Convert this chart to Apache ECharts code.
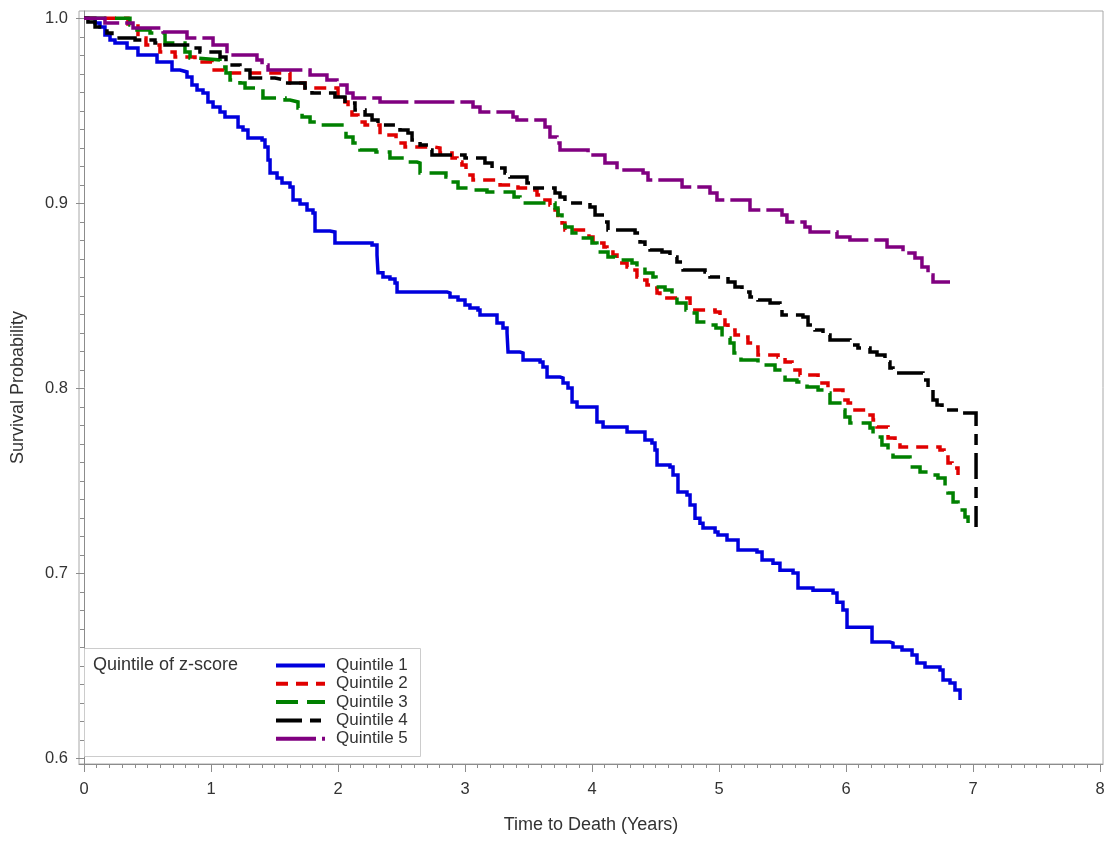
<!DOCTYPE html>
<html><head><meta charset="utf-8">
<script src="https://cdn.jsdelivr.net/npm/echarts@6/dist/echarts.min.js"></script>
<style>html,body{margin:0;padding:0;background:#fff}#c{width:1109px;height:847px}</style>
</head><body><div id="c"></div>
<script>
// ---- data ----
const seriesNames = ['Quintile 1', 'Quintile 2', 'Quintile 3', 'Quintile 4', 'Quintile 5'];
const legendTitle = 'Quintile of z-score';
const xTickLabels = [0, 1, 2, 3, 4, 5, 6, 7, 8];
const yTickLabels = [0.6, 0.7, 0.8, 0.9, 1.0];

const q1Time = [0, 0.087, 0.126, 0.165, 0.205, 0.244, 0.339, 0.425, 0.575, 0.693, 0.756, 0.811, 0.850, 0.890, 0.937, 0.976, 1.016, 1.071, 1.110, 1.213, 1.252, 1.291, 1.402, 1.425, 1.449, 1.465, 1.520, 1.559, 1.622, 1.646, 1.701, 1.756, 1.803, 1.819, 1.937, 1.976, 2.268, 2.307, 2.315, 2.354, 2.409, 2.449, 2.465, 2.858, 2.882, 2.945, 3.000, 3.039, 3.102, 3.118, 3.252, 3.299, 3.331, 3.339, 3.433, 3.457, 3.591, 3.614, 3.646, 3.748, 3.772, 3.811, 3.843, 3.882, 4.039, 4.087, 4.276, 4.417, 4.472, 4.496, 4.512, 4.614, 4.638, 4.677, 4.748, 4.772, 4.811, 4.850, 4.874, 4.969, 4.992, 5.063, 5.150, 5.299, 5.339, 5.425, 5.480, 5.583, 5.622, 5.740, 5.898, 5.929, 5.976, 6.008, 6.205, 6.346, 6.370, 6.441, 6.520, 6.559, 6.622, 6.740, 6.764, 6.819, 6.858, 6.898];
const q1Surv = [1, 0.9975, 0.9953, 0.9910, 0.9883, 0.9866, 0.9839, 0.9801, 0.9764, 0.9720, 0.9710, 0.9683, 0.9639, 0.9612, 0.9596, 0.9548, 0.9520, 0.9493, 0.9466, 0.9412, 0.9396, 0.9353, 0.9342, 0.9304, 0.9234, 0.9164, 0.9137, 0.9110, 0.9088, 0.9018, 0.8996, 0.8964, 0.8948, 0.8850, 0.8845, 0.8786, 0.8775, 0.8721, 0.8624, 0.8602, 0.8591, 0.8569, 0.8521, 0.8515, 0.8494, 0.8477, 0.8450, 0.8434, 0.8423, 0.8396, 0.8353, 0.8326, 0.8299, 0.8196, 0.8191, 0.8153, 0.8142, 0.8115, 0.8061, 0.8056, 0.8029, 0.8002, 0.7926, 0.7899, 0.7818, 0.7791, 0.7764, 0.7720, 0.7704, 0.7666, 0.7585, 0.7574, 0.7531, 0.7439, 0.7423, 0.7369, 0.7298, 0.7271, 0.7245, 0.7223, 0.7207, 0.7180, 0.7126, 0.7115, 0.7072, 0.7055, 0.7017, 0.7001, 0.6920, 0.6909, 0.6893, 0.6844, 0.6801, 0.6709, 0.6628, 0.6623, 0.6601, 0.6585, 0.6558, 0.6515, 0.6493, 0.6477, 0.6423, 0.6407, 0.6369, 0.6315];

const q2Time = [0, 0.346, 0.425, 0.488, 0.598, 0.717, 0.874, 1.008, 1.102, 1.622, 1.740, 2.000, 2.055, 2.079, 2.110, 2.157, 2.213, 2.331, 2.457, 2.528, 2.764, 2.803, 2.898, 2.937, 2.976, 3.008, 3.039, 3.063, 3.276, 3.417, 3.512, 3.567, 3.606, 3.669, 3.709, 3.732, 3.764, 3.787, 3.976, 4.008, 4.094, 4.118, 4.165, 4.197, 4.276, 4.323, 4.354, 4.402, 4.433, 4.472, 4.512, 4.535, 4.772, 4.969, 5.008, 5.047, 5.071, 5.126, 5.181, 5.228, 5.283, 5.307, 5.465, 5.520, 5.575, 5.598, 5.638, 5.780, 5.858, 5.976, 6.016, 6.055, 6.189, 6.213, 6.244, 6.331, 6.386, 6.425, 6.740, 6.772, 6.803, 6.835, 6.882];
const q2Surv = [1, 0.9969, 0.9894, 0.9856, 0.9818, 0.9791, 0.9764, 0.9721, 0.9704, 0.9650, 0.9623, 0.9569, 0.9548, 0.9521, 0.9477, 0.9440, 0.9423, 0.9369, 0.9326, 0.9304, 0.9299, 0.9272, 0.9245, 0.9223, 0.9207, 0.9180, 0.9153, 0.9126, 0.9099, 0.9083, 0.9072, 0.9045, 0.9018, 0.8991, 0.8964, 0.8921, 0.8894, 0.8856, 0.8818, 0.8785, 0.8764, 0.8737, 0.8721, 0.8677, 0.8656, 0.8640, 0.8602, 0.8585, 0.8558, 0.8542, 0.8515, 0.8488, 0.8423, 0.8412, 0.8385, 0.8342, 0.8315, 0.8288, 0.8277, 0.8245, 0.8223, 0.8180, 0.8169, 0.8142, 0.8126, 0.8099, 0.8072, 0.8029, 0.7991, 0.7937, 0.7921, 0.7883, 0.7856, 0.7829, 0.7791, 0.7731, 0.7710, 0.7683, 0.7667, 0.7629, 0.7596, 0.7569, 0.7531];

const q3Time = [0, 0.362, 0.417, 0.520, 0.638, 0.795, 0.835, 0.898, 1.071, 1.118, 1.150, 1.228, 1.268, 1.409, 1.583, 1.622, 1.685, 1.717, 1.780, 1.843, 2.031, 2.063, 2.118, 2.173, 2.299, 2.409, 2.528, 2.622, 2.646, 2.850, 2.866, 2.945, 3.039, 3.173, 3.386, 3.433, 3.709, 3.732, 3.764, 3.787, 3.843, 3.906, 4.000, 4.039, 4.126, 4.181, 4.315, 4.354, 4.417, 4.480, 4.504, 4.575, 4.630, 4.669, 4.740, 4.787, 4.827, 4.929, 4.976, 5.024, 5.087, 5.118, 5.173, 5.307, 5.441, 5.520, 5.614, 5.693, 5.780, 5.858, 5.874, 5.969, 5.992, 6.031, 6.189, 6.213, 6.283, 6.331, 6.370, 6.504, 6.583, 6.677, 6.724, 6.780, 6.803, 6.843, 6.882, 6.937, 6.961];
const q3Surv = [1, 0.9964, 0.9937, 0.9921, 0.9867, 0.9818, 0.9785, 0.9775, 0.9737, 0.9704, 0.9667, 0.9650, 0.9623, 0.9569, 0.9558, 0.9548, 0.9515, 0.9467, 0.9440, 0.9423, 0.9407, 0.9358, 0.9326, 0.9288, 0.9277, 0.9245, 0.9223, 0.9218, 0.9164, 0.9142, 0.9115, 0.9083, 0.9072, 0.9061, 0.9034, 0.9002, 0.8975, 0.8937, 0.8899, 0.8872, 0.8840, 0.8813, 0.8785, 0.8737, 0.8710, 0.8694, 0.8677, 0.8656, 0.8623, 0.8602, 0.8548, 0.8531, 0.8494, 0.8461, 0.8423, 0.8407, 0.8358, 0.8342, 0.8326, 0.8272, 0.8245, 0.8191, 0.8153, 0.8126, 0.8099, 0.8045, 0.8034, 0.8007, 0.7991, 0.7975, 0.7921, 0.7883, 0.7845, 0.7813, 0.7785, 0.7737, 0.7694, 0.7650, 0.7629, 0.7575, 0.7548, 0.7531, 0.7515, 0.7467, 0.7434, 0.7385, 0.7342, 0.7304, 0.7272];

const q4Time = [0, 0.031, 0.087, 0.181, 0.220, 0.402, 0.559, 0.638, 0.835, 0.913, 1.071, 1.118, 1.228, 1.307, 1.504, 1.583, 1.740, 1.795, 1.976, 2.055, 2.134, 2.213, 2.268, 2.315, 2.488, 2.551, 2.583, 2.646, 2.709, 2.740, 3.000, 3.157, 3.213, 3.315, 3.354, 3.488, 3.535, 3.709, 3.748, 3.787, 3.984, 4.024, 4.102, 4.126, 4.339, 4.378, 4.417, 4.457, 4.551, 4.614, 4.669, 4.717, 4.890, 4.929, 5.071, 5.126, 5.181, 5.244, 5.307, 5.402, 5.480, 5.496, 5.661, 5.701, 5.756, 5.819, 5.874, 6.031, 6.094, 6.189, 6.244, 6.307, 6.346, 6.370, 6.606, 6.646, 6.685, 6.717, 6.756, 6.913, 7.024];
const q4Surv = [1, 0.9980, 0.9953, 0.9921, 0.9894, 0.9883, 0.9867, 0.9856, 0.9840, 0.9818, 0.9791, 0.9748, 0.9721, 0.9677, 0.9667, 0.9650, 0.9623, 0.9596, 0.9575, 0.9542, 0.9504, 0.9477, 0.9450, 0.9423, 0.9396, 0.9380, 0.9342, 0.9315, 0.9288, 0.9261, 0.9245, 0.9218, 0.9191, 0.9164, 0.9142, 0.9110, 0.9083, 0.9056, 0.9034, 0.9002, 0.8980, 0.8937, 0.8899, 0.8856, 0.8840, 0.8791, 0.8764, 0.8748, 0.8737, 0.8710, 0.8683, 0.8640, 0.8629, 0.8602, 0.8575, 0.8548, 0.8521, 0.8494, 0.8477, 0.8461, 0.8440, 0.8396, 0.8385, 0.8342, 0.8315, 0.8288, 0.8261, 0.8234, 0.8218, 0.8196, 0.8180, 0.8142, 0.8110, 0.8083, 0.8045, 0.7991, 0.7937, 0.7910, 0.7883, 0.7867, 0.7250];

const q5Time = [0, 0.165, 0.386, 0.622, 0.811, 1.016, 1.126, 1.362, 1.402, 1.449, 1.780, 1.913, 1.992, 2.071, 2.118, 2.331, 3.063, 3.118, 3.378, 3.409, 3.630, 3.669, 3.724, 3.748, 3.969, 4.102, 4.197, 4.402, 4.441, 4.709, 4.929, 4.984, 5.244, 5.496, 5.535, 5.677, 5.717, 5.929, 6.031, 6.323, 6.449, 6.543, 6.598, 6.646, 6.685, 6.819];
const q5Surv = [1, 0.9974, 0.9948, 0.9926, 0.9894, 0.9856, 0.9802, 0.9775, 0.9748, 0.9721, 0.9694, 0.9667, 0.9639, 0.9596, 0.9569, 0.9548, 0.9521, 0.9494, 0.9467, 0.9450, 0.9412, 0.9358, 0.9326, 0.9288, 0.9261, 0.9218, 0.9180, 0.9164, 0.9126, 0.9088, 0.9056, 0.9018, 0.8964, 0.8937, 0.8899, 0.8872, 0.8845, 0.8818, 0.8802, 0.8764, 0.8731, 0.8704, 0.8656, 0.8613, 0.8575, 0.8575];

// ---- styling ----
const FONT = '"Liberation Sans", Arial, sans-serif';
const colors = ['#0000dd', '#e00000', '#008000', '#000000', '#800080'];
const dashes = ['solid', [12, 8], [22, 9], [26, 8, 11, 8], [40, 6]];
const times = [q1Time, q2Time, q3Time, q4Time, q5Time];
const survs = [q1Surv, q2Surv, q3Surv, q4Surv, q5Surv];

function zip(t, s) { return t.map((v, i) => [v, s[i]]); }

const xMinor = [];
for (let i = 0; i <= 80; i++) xMinor.push(i / 10);
const yMinor = [];
for (let i = 60; i <= 100; i++) yMinor.push(i / 100);

const gridL = 79, gridT = 11, gridW = 1024, gridH = 753;
const axisGray = '#8c8c8c';

const chart = echarts.init(document.getElementById('c'), null, { renderer: 'canvas' });
chart.setOption({
  animation: false,
  backgroundColor: '#ffffff',
  grid: { left: gridL, top: gridT, width: gridW, height: gridH, show: true, borderColor: '#a8a8a8', borderWidth: 1, backgroundColor: 'transparent' },
  xAxis: [{
    type: 'value', min: -5 / 127, max: 8 + 3 / 127, position: 'bottom',
    name: 'Time to Death (Years)', nameLocation: 'middle', nameGap: 52,
    nameTextStyle: { fontFamily: FONT, fontSize: 18, color: '#333' },
    axisLine: { show: true, lineStyle: { color: axisGray, width: 1 } },
    axisTick: { show: true, length: 8, customValues: xTickLabels, lineStyle: { color: axisGray } },
    axisLabel: { customValues: xTickLabels, margin: 17, fontFamily: FONT, fontSize: 16.5, color: '#333', formatter: v => String(Math.round(v)) },
    splitLine: { show: false }
  }, {
    type: 'value', min: -5 / 127, max: 8 + 3 / 127, position: 'bottom',
    axisLine: { show: false },
    axisTick: { show: true, length: 4, customValues: xMinor, lineStyle: { color: axisGray } },
    axisLabel: { show: false }, splitLine: { show: false }
  }],
  yAxis: [{
    type: 'value', min: 0.6 - 5.7 / 1850, max: 1 + 7.3 / 1850, position: 'left',
    name: 'Survival Probability', nameLocation: 'middle', nameGap: 52,
    nameTextStyle: { fontFamily: FONT, fontSize: 18, color: '#333' },
    axisLine: { show: true, lineStyle: { color: axisGray, width: 1 } },
    axisTick: { show: true, length: 8, customValues: yTickLabels, lineStyle: { color: axisGray } },
    axisLabel: { customValues: yTickLabels, margin: 11, fontFamily: FONT, fontSize: 16.5, color: '#333', formatter: v => v.toFixed(1) },
    splitLine: { show: false }
  }, {
    type: 'value', min: 0.6 - 5.7 / 1850, max: 1 + 7.3 / 1850, position: 'left',
    axisLine: { show: false },
    axisTick: { show: true, length: 4, customValues: yMinor, lineStyle: { color: axisGray } },
    axisLabel: { show: false }, splitLine: { show: false }
  }],
  legend: {
    orient: 'vertical', left: 274, top: 657, padding: 0,
    itemWidth: 49, itemHeight: 14, itemGap: 1.3,
    selectedMode: false, data: seriesNames,
    itemStyle: { opacity: 0 },
    lineStyle: { width: 4 },
    textStyle: { fontFamily: FONT, fontSize: 17, lineHeight: 17, color: '#333', padding: [0, 0, 0, 6] }
  },
  graphic: [
    { type: 'rect', shape: { x: 84.5, y: 648.5, width: 336, height: 108 }, style: { fill: 'none', stroke: '#cccccc', lineWidth: 1 }, z: 10 },
    { type: 'text', x: 93, y: 665, style: { text: legendTitle, font: '18px ' + FONT, fill: '#333', textVerticalAlign: 'middle' }, z: 11 }
  ],
  series: seriesNames.map((n, i) => ({
    name: n, type: 'line', step: 'end', data: zip(times[i], survs[i]),
    xAxisIndex: 0, yAxisIndex: 0,
    showSymbol: false, symbol: 'none',
    lineStyle: { color: colors[i], width: 3.5, type: dashes[i], cap: 'butt', join: 'miter' },
    itemStyle: { color: colors[i] },
    emphasis: { disabled: true }, silent: true
  }))
});
</script>
</body></html>
